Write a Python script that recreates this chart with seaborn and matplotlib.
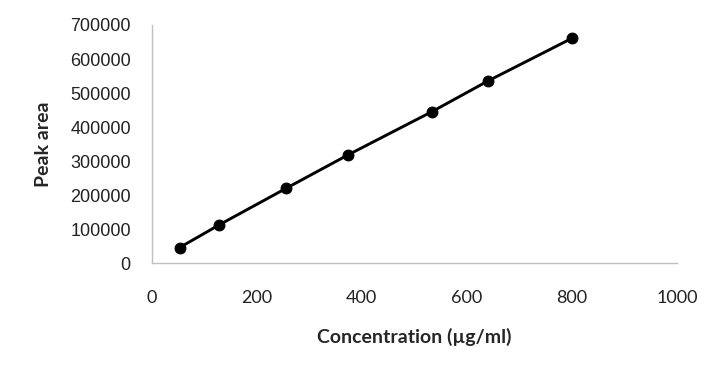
import numpy as np
import pandas as pd
import seaborn as sns
import matplotlib.pyplot as plt

# Calibration data
concentration = [53.3, 128, 256, 373.3, 533.3, 640, 800]
peak_area = [46400, 112500, 220300, 318100, 445300, 535500, 661000]

x_ticks = [0, 200, 400, 600, 800, 1000]
y_ticks = [0, 100000, 200000, 300000, 400000, 500000, 600000, 700000]

df = pd.DataFrame({'Concentration': concentration, 'Peak area': peak_area})

sns.set_style('white')

fig = plt.figure(figsize=(7.23, 3.77), dpi=100)
ax = fig.add_axes([0.2098, 0.3016, 0.7266, 0.6321])

sns.lineplot(data=df, x='Concentration', y='Peak area', ax=ax,
             color='black', linewidth=2.1, marker='o', markersize=7.8,
             markeredgecolor='black', markerfacecolor='black')

ax.set_xlim(0, 1000)
ax.set_ylim(0, 700000)
ax.set_xticks(x_ticks)
ax.set_yticks(y_ticks)
ax.set_xticklabels([str(t) for t in x_ticks], family='Lato', fontsize=13, color='#222222')
ax.set_yticklabels([str(t) for t in y_ticks], family='Liberation Sans', fontsize=13, color='#222222')
ax.tick_params(axis='both', length=0)
ax.tick_params(axis='x', pad=19)
ax.tick_params(axis='y', pad=15)

for side in ['top', 'right']:
    ax.spines[side].set_visible(False)
for side in ['left', 'bottom']:
    ax.spines[side].set_color('#BFBFBF')
    ax.spines[side].set_linewidth(1.0)

ax.set_xlabel('Concentration (µg/ml)', family='Lato', fontweight='bold', fontsize=14, labelpad=16)
ax.set_ylabel('Peak area', family='Lato', fontweight='bold', fontsize=14, labelpad=13)
ax.grid(False)

fig.savefig('out.png', dpi=100, facecolor='white')
